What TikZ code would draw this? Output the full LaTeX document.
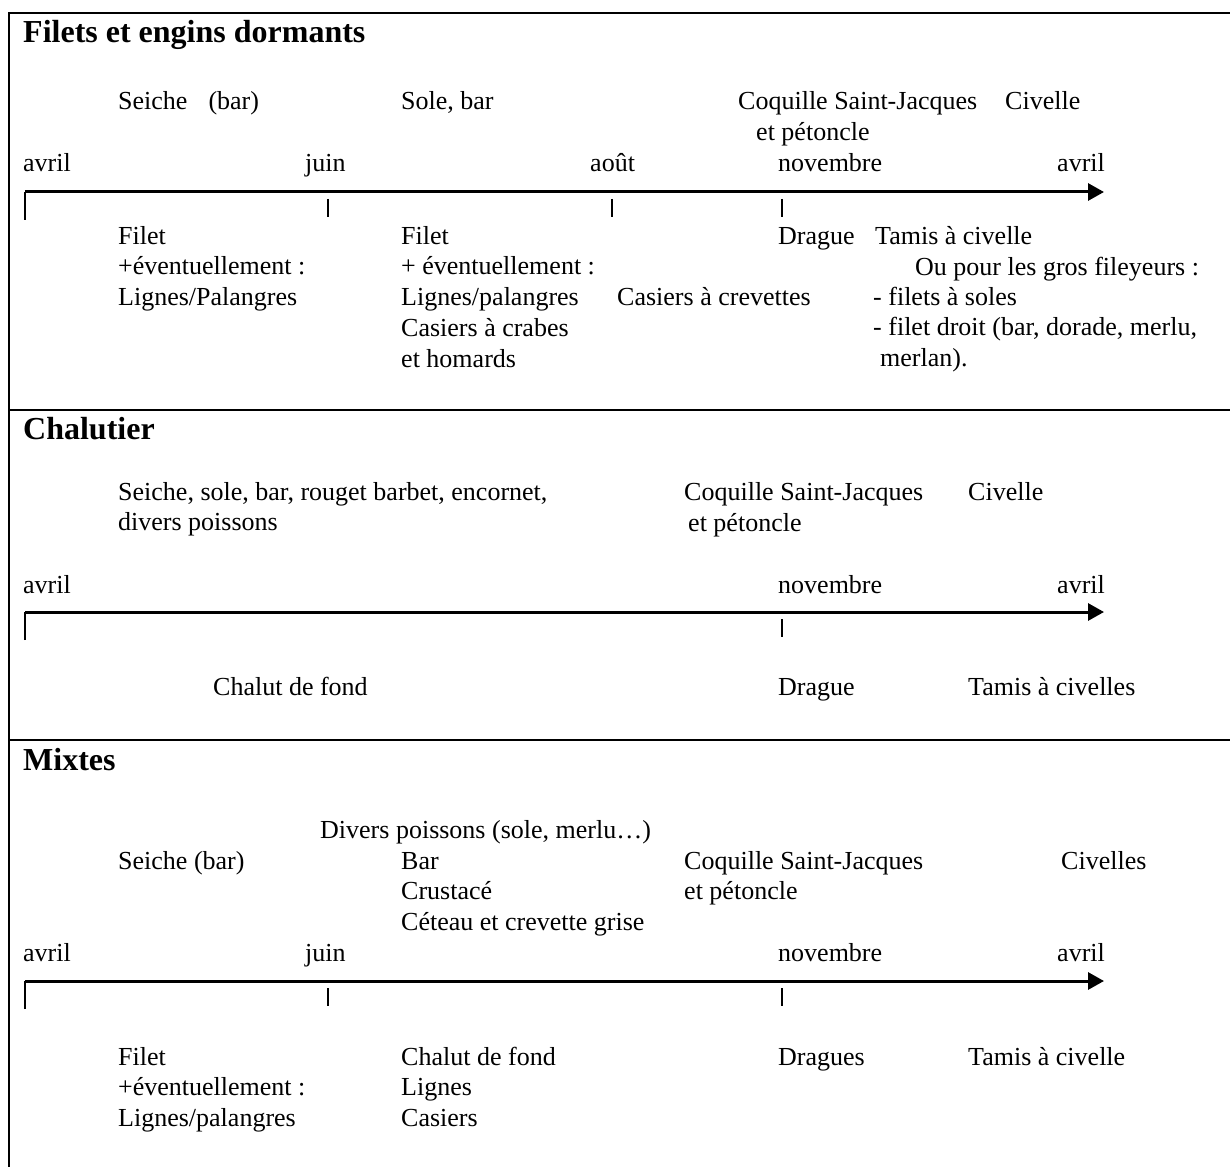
\documentclass[tikz,border=0pt]{standalone}
\usepackage{fontspec}
\setmainfont{Liberation Serif}
\usetikzlibrary{arrows.meta}

\tikzset{
  txt/.style={anchor=base west, inner sep=0pt, font=\fontsize{26}{30.8}\selectfont},
  head/.style={txt, font=\fontsize{32}{36}\selectfont\bfseries},
  frame/.style={line width=2.8pt, line cap=rect},
  axis/.style={line width=3pt, -{Triangle[length=16pt,width=17pt]}},
  tickmark/.style={line width=2pt},
}
% left-aligned block whose base is the first line's baseline
\newcommand{\blk}[1]{\begin{tabular}[t]{@{}l@{}}#1\end{tabular}}

\begin{document}
\begin{tikzpicture}[x=1pt, y=-1pt]
\useasboundingbox (0,0) rectangle (1230,1166);

% table frame and row separators
\draw[frame] (1240,13) -- (9,13) -- (9,1176);
\draw[frame] (9,410) -- (1240,410);
\draw[frame] (9,740) -- (1240,740);

% ---------- Filets et engins dormants ----------
\node[head] (h1) at (23,43) {Filets et engins dormants};

\node[txt] (s1a) at (118,110) {Seiche\hspace{21pt}(bar)};
\node[txt] (s1b) at (401,110) {Sole, bar};
\node[txt] (s1c) at (738,110) {Coquille Saint-Jacques};
\node[txt] (s1d) at (756,141) {et pétoncle};
\node[txt] (s1e) at (1005,110) {Civelle};

\node[txt] (m1a) at (23,172) {avril};
\node[txt] (m1b) at (305,172) {juin};
\node[txt] (m1c) at (590,172) {août};
\node[txt] (m1d) at (778,172) {novembre};
\node[txt] (m1e) at (1057,172) {avril};

\coordinate (a1s) at (25,192);
\coordinate (a1e) at (1104,192);
\coordinate (a1z) at (25,220);
\draw[tickmark] (a1z) -- (a1s);
\draw[axis] (a1s) -- (a1e);
\coordinate (t1b) at (328,199); \draw[tickmark] (t1b) -- ++(0,18);
\coordinate (t1c) at (612,199); \draw[tickmark] (t1c) -- ++(0,18);
\coordinate (t1d) at (782,199); \draw[tickmark] (t1d) -- ++(0,18);

\node[txt] (g1a) at (118,244) {\blk{Filet\\+éventuellement :\\Lignes/Palangres}};
\node[txt] (g1b) at (401,244) {\blk{Filet\\+ éventuellement :\\Lignes/palangres\\Casiers à crabes\\et homards}};
\node[txt] (g1c) at (617,305) {Casiers à crevettes};
\node[txt] (g1d) at (778,244) {Drague};
\node[txt] (g1e) at (875,244) {Tamis à civelle};
\node[txt] (g1f) at (915,275) {Ou pour les gros fileyeurs :};
\node[txt] (g1g) at (873,305) {\blk{- filets à soles\\- filet droit (bar, dorade, merlu,}};
\node[txt] (g1h) at (880,366) {merlan).};

% ---------- Chalutier ----------
\node[head] (h2) at (23,439) {Chalutier};

\node[txt] (s2a) at (118,500) {\blk{Seiche, sole, bar, rouget barbet, encornet,\\divers poissons}};
\node[txt] (s2b) at (684,500) {Coquille Saint-Jacques};
\node[txt] (s2c) at (688,531) {et pétoncle};
\node[txt] (s2d) at (968,500) {Civelle};

\node[txt] (m2a) at (23,593) {avril};
\node[txt] (m2d) at (778,593) {novembre};
\node[txt] (m2e) at (1057,593) {avril};

\coordinate (a2s) at (25,612);
\coordinate (a2e) at (1104,612);
\coordinate (a2z) at (25,640);
\draw[tickmark] (a2z) -- (a2s);
\draw[axis] (a2s) -- (a2e);
\coordinate (t2d) at (782,619); \draw[tickmark] (t2d) -- ++(0,18);

\node[txt] (g2a) at (213,695) {Chalut de fond};
\node[txt] (g2b) at (778,695) {Drague};
\node[txt] (g2c) at (968,695) {Tamis à civelles};

% ---------- Mixtes ----------
\node[head] (h3) at (23,770) {Mixtes};

\node[txt] (s3a) at (320,838) {Divers poissons (sole, merlu…)};
\node[txt] (s3b) at (118,869) {Seiche (bar)};
\node[txt] (s3c) at (401,869) {\blk{Bar\\Crustacé\\Céteau et crevette grise}};
\node[txt] (s3d) at (684,869) {\blk{Coquille Saint-Jacques\\et pétoncle}};
\node[txt] (s3e) at (1061,869) {Civelles};

\node[txt] (m3a) at (23,961) {avril};
\node[txt] (m3b) at (305,961) {juin};
\node[txt] (m3d) at (778,961) {novembre};
\node[txt] (m3e) at (1057,961) {avril};

\coordinate (a3s) at (25,981);
\coordinate (a3e) at (1104,981);
\coordinate (a3z) at (25,1009);
\draw[tickmark] (a3z) -- (a3s);
\draw[axis] (a3s) -- (a3e);
\coordinate (t3b) at (328,988); \draw[tickmark] (t3b) -- ++(0,18);
\coordinate (t3d) at (782,988); \draw[tickmark] (t3d) -- ++(0,18);

\node[txt] (g3a) at (118,1065) {\blk{Filet\\+éventuellement :\\Lignes/palangres}};
\node[txt] (g3b) at (401,1065) {\blk{Chalut de fond\\Lignes\\Casiers}};
\node[txt] (g3c) at (778,1065) {Dragues};
\node[txt] (g3d) at (968,1065) {Tamis à civelle};

\end{tikzpicture}
\end{document}
